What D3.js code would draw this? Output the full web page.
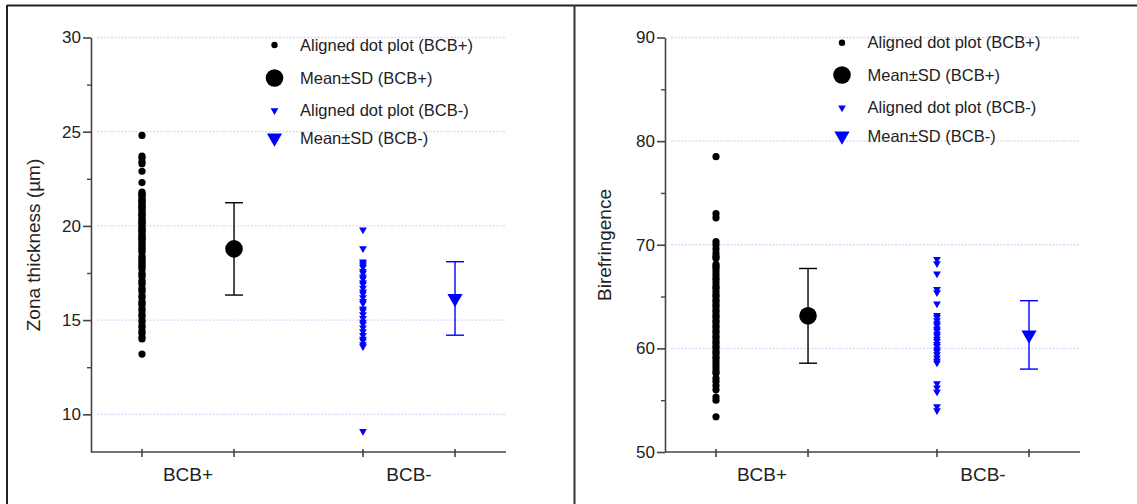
<!DOCTYPE html>
<html>
<head>
<meta charset="utf-8">
<script src="https://cdn.jsdelivr.net/npm/d3@7"></script>
<style>
  html, body { margin: 0; padding: 0; background: #fff; }
  svg { display: block; }
  text { font-family: "Liberation Sans", Arial, sans-serif; fill: #222; }
</style>
</head>
<body>
<svg id="chart" width="1137" height="504"></svg>
<script>
// ---------- DATA ----------
const groups = ["BCB+", "BCB-"];
const legendLabels = ["Aligned dot plot (BCB+)", "Mean\u00B1SD (BCB+)", "Aligned dot plot (BCB-)", "Mean\u00B1SD (BCB-)"];

// Panel 1: Zona thickness (µm)
const zonaTitle = "Zona thickness (\u00B5m)";
const zonaTicks = [10, 15, 20, 25, 30];
const zonaMinorTicks = [12.5, 17.5, 22.5, 27.5];
const zonaBCBpos = [24.8, 23.7, 23.6, 23.4, 23.3, 22.9, 22.3,
  21.8, 21.7, 21.7, 21.6, 21.5, 21.4, 21.3, 21.3, 21.2, 21.1, 21.0, 21.0, 20.9, 20.8,
  20.7, 20.6, 20.6, 20.5, 20.4, 20.3, 20.2, 20.2, 20.1, 20.0, 19.9, 19.8, 19.8, 19.7,
  19.6, 19.5, 19.4, 19.3, 19.3, 19.2, 19.1, 19.0, 18.9, 18.8, 18.7, 18.6, 18.4, 18.3,
  18.2, 18.1, 18.0, 17.9, 17.8, 17.7, 17.5, 17.4, 17.3, 17.1, 17.0, 16.9, 16.7, 16.6,
  16.5, 16.3, 16.2, 16.0, 15.9, 15.8, 15.6, 15.5, 15.3, 15.2, 15.0, 14.9, 14.7, 14.6,
  14.4, 14.3, 14.1, 14.0, 13.2];
const zonaBCBneg = [19.8, 18.8, 18.1, 18.0, 17.9, 17.8, 17.6, 17.5, 17.3, 17.2, 17.0,
  16.9, 16.7, 16.5, 16.4, 16.2, 16.0, 15.9, 15.6, 15.5, 15.3, 15.1, 14.9, 14.8, 14.6,
  14.4, 14.2, 14.0, 13.9, 13.7, 13.6, 9.1];
const zonaMean = [18.78, 16.15];
const zonaSD = [2.45, 1.95];

// Panel 2: Birefringence
const biroTitle = "Birefringence";
const biroTicks = [50, 60, 70, 80, 90];
const biroMinorTicks = [55, 65, 75, 85];
const biroBCBpos = [78.5, 73.0, 72.6, 70.3, 70.0, 69.6, 69.2, 68.9, 68.7,
  68.1, 67.9, 67.7, 67.4, 67.1, 66.8, 66.6, 66.3, 66.0, 65.8, 65.5, 65.2, 65.0, 64.7,
  64.5, 64.2, 64.0, 63.7, 63.5, 63.2, 63.0, 62.7, 62.5, 62.2, 62.0, 61.7, 61.5, 61.2,
  61.0, 60.7, 60.5, 60.2, 60.0, 59.7, 59.5, 59.2, 59.0, 58.7, 58.4, 58.1, 57.8, 57.6,
  57.1, 56.8, 56.4, 56.0, 55.3, 55.0, 53.4];
const biroBCBneg = [68.6, 68.2, 67.2, 65.7, 65.4, 64.3, 63.2, 63.0, 62.7, 62.4, 62.2,
  61.9, 61.7, 61.4, 61.2, 60.9, 60.7, 60.4, 60.2, 59.9, 59.7, 59.4, 59.1, 58.8, 58.6,
  56.6, 56.2, 55.8, 54.4, 54.0];
const biroMean = [63.14, 61.3];
const biroSD = [4.57, 3.3];

// ---------- DRAWING ----------
const svg = d3.select("#chart");
const BLUE = "#0000ff";
const colors = ["#000000", BLUE];

// outer frame lines
svg.append("line").attr("x1", 7).attr("x2", 1137).attr("y1", 5.5).attr("y2", 5.5)
  .attr("stroke", "#222").attr("stroke-width", 2);
svg.append("line").attr("x1", 7).attr("x2", 7).attr("y1", 5).attr("y2", 504)
  .attr("stroke", "#222").attr("stroke-width", 2);
svg.append("line").attr("x1", 574.5).attr("x2", 574.5).attr("y1", 5).attr("y2", 504)
  .attr("stroke", "#333").attr("stroke-width", 2);

function panel(cfg) {
  const g = svg.append("g").attr("transform", `translate(${cfg.left},0)`);
  const W = 415, top = 37.5, bottom = 452;
  const y = d3.scaleLinear().domain(cfg.domain).range([bottom, top]);
  const xBand = d3.scaleBand().domain(groups).range([0, W]).paddingInner(0.167).paddingOuter(0.0225);
  const xSub = d3.scalePoint().domain(["dots", "mean"]).range([0, xBand.bandwidth()]).padding(0.5);
  const xPos = (grp, kind) => xBand(grp) + xSub(kind);

  // gridlines
  g.append("g").selectAll("line").data(cfg.ticks.filter(t => t !== cfg.domain[0])).join("line")
    .attr("x1", 6).attr("x2", W).attr("y1", d => y(d)).attr("y2", d => y(d))
    .attr("stroke", "#d8d8f6").attr("stroke-width", 1.3).attr("stroke-dasharray", "2,1.5");

  // y axis
  const yAx = g.append("g").call(d3.axisLeft(y).tickValues(cfg.ticks).tickSize(8).tickPadding(2).tickSizeOuter(0));
  yAx.select(".domain").attr("stroke", "#444").attr("stroke-width", 1.6);
  yAx.selectAll(".tick line").attr("stroke", "#444").attr("stroke-width", 1.6);
  yAx.selectAll(".tick text").style("font-size", "17px").attr("fill", "#222");
  const yMin = g.append("g").call(d3.axisLeft(y).tickValues(cfg.minor).tickSize(4).tickFormat(""));
  yMin.select(".domain").remove();
  yMin.selectAll(".tick line").attr("stroke", "#444").attr("stroke-width", 1.4);

  // x axis
  g.append("line").attr("x1", 0).attr("x2", W).attr("y1", bottom).attr("y2", bottom)
    .attr("stroke", "#444").attr("stroke-width", 1.6);
  const tickXs = [];
  groups.forEach(grp => ["dots", "mean"].forEach(k => tickXs.push(xPos(grp, k))));
  g.append("g").selectAll("line").data(tickXs).join("line")
    .attr("x1", d => d).attr("x2", d => d).attr("y1", bottom - 3).attr("y2", bottom + 5)
    .attr("stroke", "#444").attr("stroke-width", 1.6);
  g.append("g").selectAll("text").data(groups).join("text")
    .attr("x", d => xBand(d) + xBand.bandwidth() / 2).attr("y", bottom + 29)
    .attr("text-anchor", "middle").style("font-size", "19px").text(d => d);

  // y title
  g.append("text").attr("transform", `translate(${cfg.titleX},245) rotate(-90)`)
    .attr("text-anchor", "middle").style("font-size", "19px").text(cfg.title);

  // dots
  const smallTri = d3.symbol().type(d3.symbolTriangle).size(26);
  const bigTri = d3.symbol().type(d3.symbolTriangle).size(100);
  g.append("g").selectAll("circle").data(cfg.pos).join("circle")
    .attr("cx", xPos("BCB+", "dots")).attr("cy", d => y(d)).attr("r", 3.6).attr("fill", "#000");
  g.append("g").selectAll("path").data(cfg.neg).join("path")
    .attr("d", smallTri)
    .attr("transform", d => `translate(${xPos("BCB-", "dots")},${y(d)}) rotate(180)`)
    .attr("fill", BLUE);

  // mean ± SD
  groups.forEach((grp, i) => {
    const cx = xPos(grp, "mean");
    const m = cfg.mean[i], s = cfg.sd[i];
    const eg = g.append("g").attr("stroke", colors[i]).attr("stroke-width", 1.4);
    eg.append("line").attr("x1", cx).attr("x2", cx).attr("y1", y(m + s)).attr("y2", y(m - s));
    [m + s, m - s].forEach(v => eg.append("line").attr("x1", cx - 9).attr("x2", cx + 9)
      .attr("y1", y(v)).attr("y2", y(v)));
    if (i === 0) {
      g.append("circle").attr("cx", cx).attr("cy", y(m)).attr("r", 8.8).attr("fill", "#000");
    } else {
      g.append("path").attr("d", bigTri)
        .attr("transform", `translate(${cx},${y(m)}) rotate(180)`).attr("fill", BLUE);
    }
  });

  // legend
  const lg = g.append("g");
  legendLabels.forEach((lab, i) => {
    const ly = cfg.legendY[i];
    const sx = cfg.legendX;
    if (i === 0) lg.append("circle").attr("cx", sx).attr("cy", ly).attr("r", 3.2).attr("fill", "#000");
    if (i === 1) lg.append("circle").attr("cx", sx).attr("cy", ly).attr("r", 8.8).attr("fill", "#000");
    if (i === 2) lg.append("path").attr("d", smallTri).attr("transform", `translate(${sx},${ly}) rotate(180)`).attr("fill", BLUE);
    if (i === 3) lg.append("path").attr("d", bigTri).attr("transform", `translate(${sx},${ly}) rotate(180)`).attr("fill", BLUE);
    lg.append("text").attr("x", sx + 25.5).attr("y", ly).attr("dy", "0.35em")
      .style("font-size", "16.5px").text(lab);
  });
}

panel({ left: 91, domain: [8, 30], ticks: zonaTicks, minor: zonaMinorTicks, pos: zonaBCBpos, neg: zonaBCBneg,
  mean: zonaMean, sd: zonaSD, title: zonaTitle, titleX: -51, legendX: 183.5, legendY: [45, 78, 110.5, 138] });
panel({ left: 665, domain: [50, 90], ticks: biroTicks, minor: biroMinorTicks, pos: biroBCBpos, neg: biroBCBneg,
  mean: biroMean, sd: biroSD, title: biroTitle, titleX: -54, legendX: 177, legendY: [42.7, 75, 107.7, 136] });
</script>
</body>
</html>
